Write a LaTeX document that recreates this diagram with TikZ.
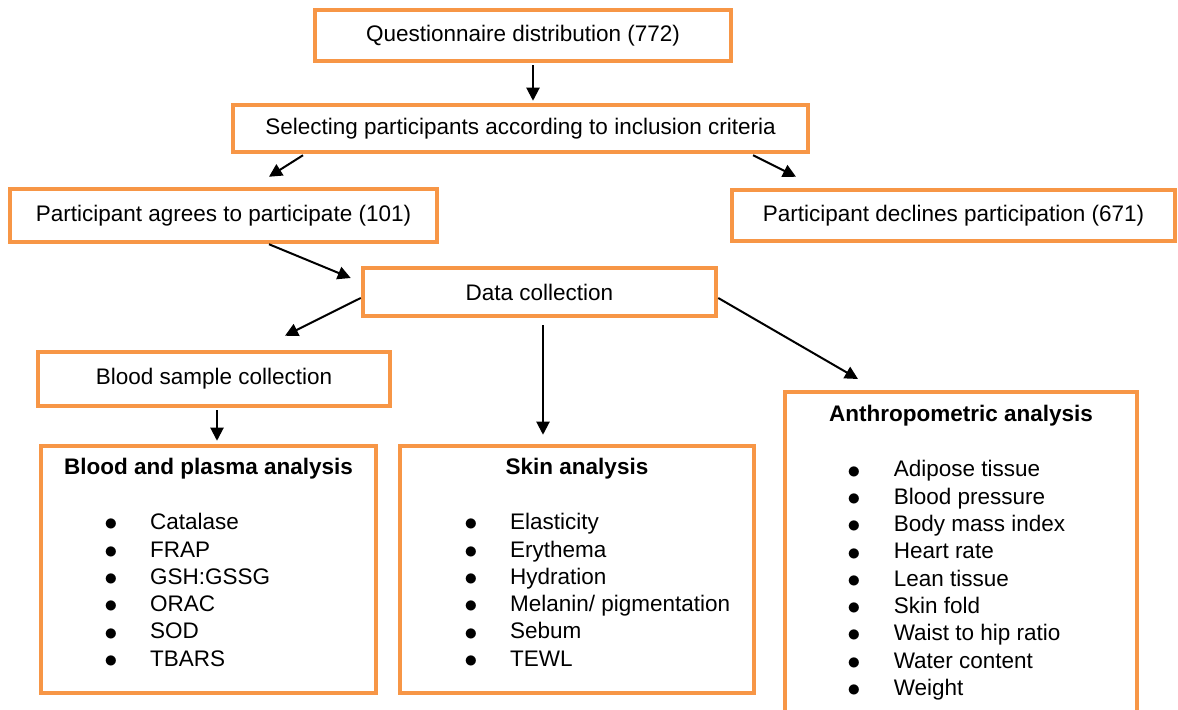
\documentclass[tikz,border=0pt]{standalone}
\usepackage{fontspec}
\setmainfont{Liberation Sans}
\usetikzlibrary{arrows.meta}
\definecolor{boxorange}{HTML}{F79646}
\newcommand{\listdot}{\raisebox{-0.6pt}{\scalebox{1.2}{$\bullet$}}}

\begin{document}
\begin{tikzpicture}[x=0.5pt, y=-0.5pt, font=\fontsize{11.25}{13.65}\selectfont]
  % Define box, title and arrow styles
  \tikzstyle{stagebox} = [draw=boxorange, fill=white, line width=2.25pt,
  rectangle, inner sep=0pt]
  \tikzstyle{boxtitle} = [anchor=base, inner sep=0pt, font=\fontsize{11.25}{13.65}\selectfont\bfseries]
  \tikzstyle{itemlist} = [anchor=base west, inner sep=0pt, align=left]
  \tikzstyle{flowarrow} = [-{Triangle[length=6.5pt, width=6.5pt]}, line width=1pt]

  \useasboundingbox (0,0) rectangle (1178,710);
  \clip (0,0) rectangle (1178,710);

  % Recruitment
  \node[stagebox, minimum width=208pt, minimum height=25.5pt] (quest) at (523,35.5)
  {Questionnaire distribution (772)};
  \node[stagebox, minimum width=287.5pt, minimum height=23.5pt] (select) at (520.5,128.5)
  {Selecting participants according to inclusion criteria};
  \node[stagebox, minimum width=213.5pt, minimum height=26.5pt] (agree) at (223.5,215.5)
  {Participant agrees to participate (101)};
  \node[stagebox, minimum width=221.5pt, minimum height=25.5pt] (decline) at (953.5,215.5)
  {Participant declines participation (671)};
  \node[stagebox, minimum width=176.5pt, minimum height=24pt] (datacoll) at (539.5,292)
  {Data collection};
  \node[stagebox, minimum width=176pt, minimum height=27pt] (bloodsample) at (214,379)
  {Blood sample collection};

  % Analysis boxes
  \node[stagebox, minimum width=167.5pt, minimum height=123.5pt] (plasma) at (208.5,569.5) {};
  \node[stagebox, minimum width=177pt, minimum height=123.5pt] (skin) at (577,569.5) {};
  \node[stagebox, minimum width=176pt, minimum height=200pt, anchor=north] (anthro) at (961,390) {};

  \node[boxtitle] (plasmatitle) at ([yshift=-15.5pt]plasma.north) {Blood and plasma analysis};
  \node[boxtitle] (skintitle) at ([yshift=-15.5pt]skin.north) {Skin analysis};
  \node[boxtitle] (anthrotitle) at ([yshift=-16pt]anthro.north) {Anthropometric analysis};

  \node[itemlist] (plasmalist) at ([xshift=32.6pt, yshift=-43pt]plasma.north west) {%
    \begin{tabular}[t]{@{}p{22.9pt}@{}l@{}}
      \listdot & Catalase\\
      \listdot & FRAP\\
      \listdot & GSH:GSSG\\
      \listdot & ORAC\\
      \listdot & SOD\\
      \listdot & TBARS
    \end{tabular}};
  \node[itemlist] (skinlist) at ([xshift=33.1pt, yshift=-43pt]skin.north west) {%
    \begin{tabular}[t]{@{}p{22.9pt}@{}l@{}}
      \listdot & Elasticity\\
      \listdot & Erythema\\
      \listdot & Hydration\\
      \listdot & Melanin/ pigmentation\\
      \listdot & Sebum\\
      \listdot & TEWL
    \end{tabular}};
  \node[itemlist] (anthrolist) at ([xshift=32.1pt, yshift=-43.5pt]anthro.north west) {%
    \begin{tabular}[t]{@{}p{23.2pt}@{}l@{}}
      \listdot & Adipose tissue\\
      \listdot & Blood pressure\\
      \listdot & Body mass index\\
      \listdot & Heart rate\\
      \listdot & Lean tissue\\
      \listdot & Skin fold\\
      \listdot & Waist to hip ratio\\
      \listdot & Water content\\
      \listdot & Weight
    \end{tabular}};

  % Connectors
  \draw[flowarrow] ([xshift=5pt, yshift=-1pt]quest.south) -- ([xshift=6.25pt, yshift=1pt]select.north);
  \draw[flowarrow] ([xshift=-108.75pt, yshift=-0.5pt]select.south) -- ([xshift=22.75pt, yshift=5pt]agree.north);
  \draw[flowarrow] ([xshift=116.25pt, yshift=-0.5pt]select.south) -- ([xshift=-78.75pt, yshift=5.5pt]decline.north);
  \draw[flowarrow] ([xshift=22.75pt]agree.south) -- ([xshift=-5pt, yshift=7pt]datacoll.west);
  \draw[flowarrow] ([yshift=-3pt]datacoll.west) -- ([xshift=35.5pt, yshift=7pt]bloodsample.north);
  \draw[flowarrow] ([xshift=1.75pt, yshift=-3.5pt]datacoll.south) -- ([xshift=-17pt, yshift=4.5pt]skin.north);
  \draw[flowarrow] ([yshift=-3pt]datacoll.east) -- ([xshift=-51.5pt, yshift=5.5pt]anthro.north);
  \draw[flowarrow] ([xshift=1.5pt, yshift=-1pt]bloodsample.south) -- ([xshift=4.25pt, yshift=1.5pt]plasma.north);
\end{tikzpicture}
\end{document}
